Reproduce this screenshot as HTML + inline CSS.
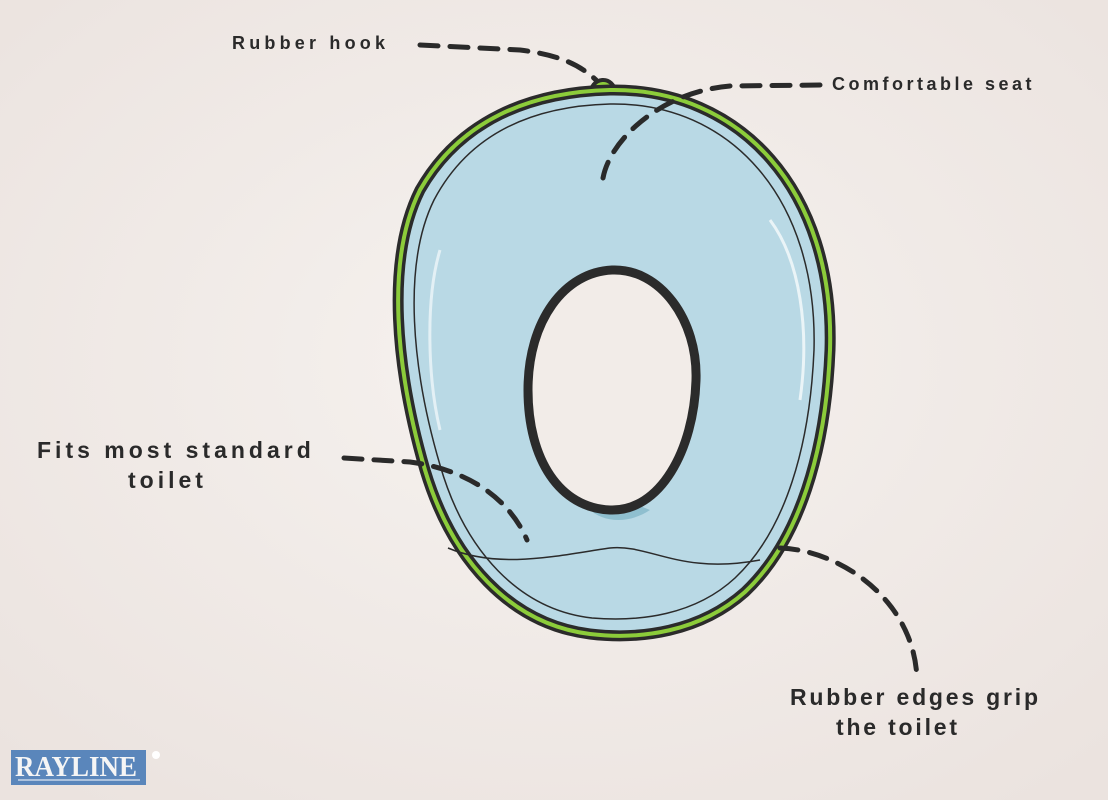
<!DOCTYPE html>
<html><head><meta charset="utf-8"><style>
html,body{margin:0;padding:0}
body{width:1108px;height:800px;overflow:hidden;background:#f2ece8;position:relative;font-family:"Liberation Sans",sans-serif}
.t{position:absolute;color:#2a2a2a;font-size:20px;font-weight:bold;white-space:nowrap}
</style></head><body>
<svg width="1108" height="800" style="position:absolute;left:0;top:0">
<defs><radialGradient id="bg" cx="50%" cy="45%" r="70%"><stop offset="0" stop-color="#f6f2ef"/><stop offset="1" stop-color="#ebe3df"/></radialGradient></defs>
<rect width="1108" height="800" fill="url(#bg)"/>
<path d="M590 96 C590 76 614 74 616 94" fill="#8ccc3a" stroke="#2b2b2b" stroke-width="4"/>
<path d="M610 90 C740 88 835 190 830 350 C826 450 800 540 745 592 C700 632 640 640 590 634 C510 624 452 560 425 470 C396 370 385 260 420 190 C460 120 530 92 610 90 Z" fill="#b9d9e5" stroke="#2b2b2b" stroke-width="11"/>
<path d="M610 90 C740 88 835 190 830 350 C826 450 800 540 745 592 C700 632 640 640 590 634 C510 624 452 560 425 470 C396 370 385 260 420 190 C460 120 530 92 610 90 Z" fill="none" stroke="#8ccc3a" stroke-width="4"/>
<path d="M610 104 C730 102 818 198 814 350 C810 445 786 530 735 578 C695 615 640 622 592 618 C520 610 465 552 440 465 C412 370 402 265 434 200 C470 132 535 106 610 104 Z" fill="none" stroke="#2b2b2b" stroke-width="1.5"/>
<path d="M448 548 C500 570 560 555 610 548 C650 544 680 575 760 560" fill="none" stroke="#2b2b2b" stroke-width="1.5"/>
<path d="M770 220 C800 260 810 330 800 400" fill="none" stroke="#fff" stroke-width="3" opacity=".7"/>
<path d="M440 250 C425 300 428 380 440 430" fill="none" stroke="#fff" stroke-width="3" opacity=".6"/>
<path d="M575 480 C580 520 620 530 650 510" fill="#8fbfcf" stroke="none"/>
<path d="M612 270 C660 268 698 320 696 380 C694 450 660 512 610 510 C560 508 528 460 528 390 C528 320 565 272 612 270 Z" fill="#f2ece8" stroke="#2b2b2b" stroke-width="9"/>
<g fill="none" stroke="#2a2a2a" stroke-width="5" stroke-linecap="round" stroke-dasharray="18 12">
<path d="M420 45 L520 50 C560 55 580 65 596 80"/>
<path d="M820 85 L730 86 C660 92 610 140 603 178"/>
<path d="M344 458 L410 462 C470 470 510 500 527 540"/>
<path d="M780 548 C840 550 915 600 917 680"/>
</g>
<rect x="11" y="750" width="135" height="35" fill="#5a86bb"/>
<line x1="18" y1="780" x2="140" y2="780" stroke="#fff" stroke-width="1"/>
<text x="15" y="776" font-family="Liberation Serif" font-weight="bold" font-size="28" fill="#f5f5f5" textLength="122" lengthAdjust="spacingAndGlyphs">RAYLINE</text>
<circle cx="156" cy="755" r="4" fill="#fff"/>
</svg>
<div class="t" style="left:232px;top:33px;font-size:18px;letter-spacing:4.2px">Rubber hook</div>
<div class="t" style="left:832px;top:74px;font-size:18px;letter-spacing:3.5px">Comfortable seat</div>
<div class="t" style="left:37px;top:437px;font-size:23px;letter-spacing:4px">Fits most standard</div>
<div class="t" style="left:128px;top:467px;font-size:23px;letter-spacing:4px">toilet</div>
<div class="t" style="left:790px;top:684px;font-size:23px;letter-spacing:2.8px">Rubber edges grip</div>
<div class="t" style="left:836px;top:714px;font-size:23px;letter-spacing:2.8px">the toilet</div>
</body></html>
